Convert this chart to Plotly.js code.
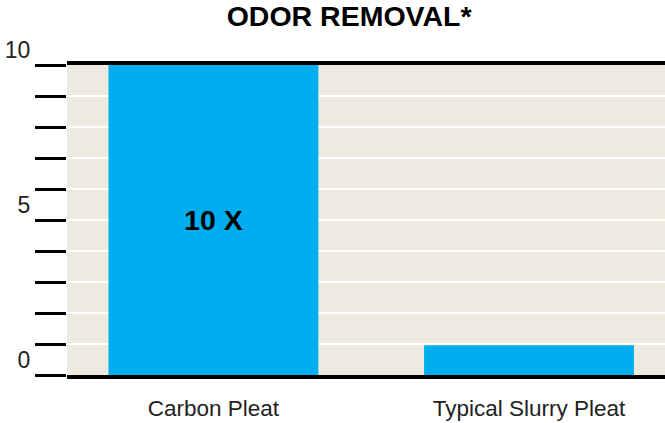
<!DOCTYPE html>
<html><head><meta charset="utf-8">
<script src="https://cdn.plot.ly/plotly-3.0.1.min.js"></script>
<style>html,body{margin:0;padding:0;background:#fff}#chart{width:665px;height:423px}</style>
</head><body><div id="chart"></div>
<script>
const categories = ['Carbon Pleat', 'Typical Slurry Pleat'];
const odorValues = [10, 0.96];
const barLabels = ['10 X', ''];
const yTickVals = [0,1,2,3,4,5,6,7,8,9,10];
const yTickText = ['0','','','','','5','','','','','10'];

const trace = {
  type: 'bar', x: categories, y: odorValues,
  marker: {color: '#00AEEF', line: {width: 0}},
  text: barLabels, textposition: 'inside', insidetextanchor: 'middle',
  constraintext: 'none',
  textfont: {family: 'Liberation Sans, Arial, sans-serif', size: 28.5, color: '#000', weight: 'bold'},
  hoverinfo: 'none'
};
const layout = {
  width: 665, height: 423,
  margin: {l: 67, r: 0, t: 65, b: 48},
  paper_bgcolor: '#ffffff', plot_bgcolor: '#EDEADF',
  font: {family: 'Liberation Sans, Arial, sans-serif', color: '#222'},
  title: {text: '<b>ODOR REMOVAL*</b>', font: {size: 28.5, color: '#000'},
          xref: 'container', x: 0.525, xanchor: 'center', yref: 'container', y: 0.985, yanchor: 'top'},
  bargap: 0.335,
  showlegend: false,
  xaxis: {range: [-0.464, 1.431], showgrid: false, zeroline: false,
          showline: true, mirror: true, linecolor: '#000', linewidth: 4,
          ticks: '', tickfont: {size: 22.5, color: '#222'}, ticklabelstandoff: 10, fixedrange: true},
  yaxis: {range: [0, 10], tickvals: yTickVals, ticktext: yTickText,
          ticks: 'outside', ticklen: 31, tickwidth: 3, tickcolor: '#000',
          showgrid: true, gridcolor: '#ffffff', gridwidth: 2, zeroline: false,
          showline: false, tickfont: {size: 23, color: '#222'},
          ticklabelshift: -15, ticklabelstandoff: 0, fixedrange: true}
};
Plotly.newPlot('chart', [trace], layout, {displayModeBar: false, staticPlot: true});
</script></body></html>
